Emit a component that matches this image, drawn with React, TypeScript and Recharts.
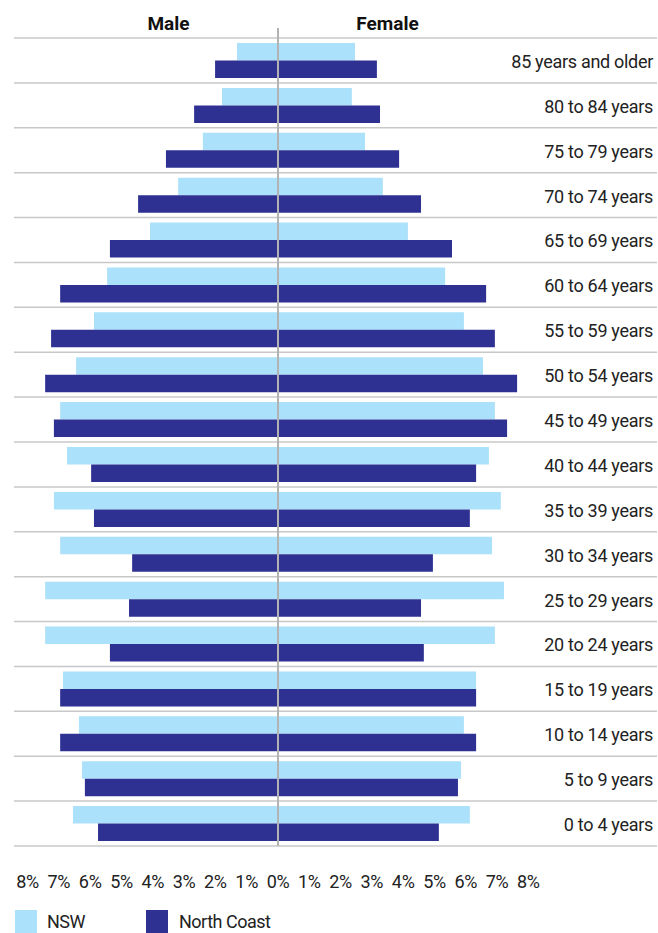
import { BarChart, Bar, XAxis, YAxis, CartesianGrid, ReferenceLine } from "recharts";

const AGE_GROUPS = [
  "85 years and older",
  "80 to 84 years",
  "75 to 79 years",
  "70 to 74 years",
  "65 to 69 years",
  "60 to 64 years",
  "55 to 59 years",
  "50 to 54 years",
  "45 to 49 years",
  "40 to 44 years",
  "35 to 39 years",
  "30 to 34 years",
  "25 to 29 years",
  "20 to 24 years",
  "15 to 19 years",
  "10 to 14 years",
  "5 to 9 years",
  "0 to 4 years",
];

// share of population (%)
const NSW_MALE = [1.31, 1.79, 2.4, 3.19, 4.09, 5.46, 5.88, 6.45, 6.96, 6.74, 7.16, 6.96, 7.44, 7.44, 6.87, 6.36, 6.26, 6.55];
const NC_MALE = [2.01, 2.68, 3.58, 4.47, 5.37, 6.96, 7.25, 7.44, 7.16, 5.97, 5.88, 4.66, 4.76, 5.37, 6.96, 6.96, 6.17, 5.75];
const NSW_FEMALE = [2.46, 2.36, 2.78, 3.35, 4.15, 5.34, 5.94, 6.55, 6.93, 6.74, 7.12, 6.84, 7.22, 6.93, 6.33, 5.94, 5.85, 6.13];
const NC_FEMALE = [3.16, 3.26, 3.87, 4.57, 5.56, 6.65, 6.93, 7.64, 7.32, 6.33, 6.13, 4.95, 4.57, 4.66, 6.33, 6.33, 5.75, 5.14];

const X_TICKS = [-8, -7, -6, -5, -4, -3, -2, -1, 0, 1, 2, 3, 4, 5, 6, 7, 8];
const SEX_TICKS = [-3.5, 0, 3.5];
const SEX_LABELS: Record<string, string> = { "-3.5": "Male", "3.5": "Female" };

const LIGHT = "#abe1fa";
const DARK = "#2e3192";
const FONT = "Roboto, 'Liberation Sans', sans-serif";

const data = AGE_GROUPS.map((age, i) => ({
  age,
  nswM: -NSW_MALE[i],
  nswF: NSW_FEMALE[i],
  ncM: -NC_MALE[i],
  ncF: NC_FEMALE[i],
}));

function TopTick(props: any) {
  const { x, y, payload } = props;
  if (payload.value === 0) {
    return <line x1={x} x2={x} y1={y} y2={y - 10} stroke="#b3b3b3" strokeWidth={2} />;
  }
  return (
    <text x={x} y={y - 8} textAnchor="middle" fontFamily={FONT} fontWeight="bold" fontSize={19} fill="#111">
      {SEX_LABELS[String(payload.value)]}
    </text>
  );
}

export default function App() {
  const domain: [number, number] = [-8.435, 12.11];
  return (
    <div style={{ position: "absolute", left: 0, top: 0, width: 658, height: 933, fontFamily: FONT }}>
      <BarChart
        width={658}
        height={933}
        data={data}
        layout="vertical"
        stackOffset="sign"
        barGap={0}
        barSize={17.5}
        margin={{ top: 0, right: 1, bottom: 37, left: 14 }}
      >
        <CartesianGrid
          xAxisId="bottom"
          vertical={false}
          stroke="#c8c8c8"
          strokeWidth={1.5}
          horizontalCoordinatesGenerator={({ offset }: any) =>
            AGE_GROUPS.map((_, i) => offset.top + (i * offset.height) / AGE_GROUPS.length).concat(
              offset.top + offset.height
            )
          }
        />
        <XAxis
          xAxisId="bottom"
          type="number"
          domain={domain}
          allowDataOverflow
          ticks={X_TICKS}
          interval={0}
          axisLine={false}
          tickLine={false}
          tickSize={0}
          tickMargin={29}
          height={50}
          tickFormatter={(v: number) => `${Math.abs(v)}%`}
          tick={{ fontSize: 18, fill: "#222", fontFamily: FONT, letterSpacing: -0.3 }}
        />
        <XAxis
          xAxisId="top"
          orientation="top"
          type="number"
          domain={domain}
          allowDataOverflow
          ticks={SEX_TICKS}
          interval={0}
          axisLine={false}
          tickLine={false}
          tickSize={0}
          tickMargin={0}
          height={38}
          tick={<TopTick />}
        />
        <YAxis
          type="category"
          dataKey="age"
          orientation="right"
          mirror
          width={300}
          axisLine={false}
          tickLine={false}
          tickSize={0}
          tickMargin={4}
          interval={0}
          tick={{ fontSize: 18, fill: "#222", fontFamily: FONT, letterSpacing: -0.3, dy: 1 }}
        />
        <Bar xAxisId="bottom" dataKey="nswM" stackId="nsw" fill={LIGHT} isAnimationActive={false} />
        <Bar xAxisId="bottom" dataKey="nswF" stackId="nsw" fill={LIGHT} isAnimationActive={false} />
        <Bar xAxisId="bottom" dataKey="ncM" stackId="nc" fill={DARK} isAnimationActive={false} />
        <Bar xAxisId="bottom" dataKey="ncF" stackId="nc" fill={DARK} isAnimationActive={false} />
        <ReferenceLine xAxisId="bottom" x={0} stroke="#b3b3b3" strokeWidth={2} />
      </BarChart>
      <div
        style={{
          position: "absolute",
          left: 15,
          top: 910,
          display: "flex",
          alignItems: "center",
          fontSize: 18,
          letterSpacing: -0.5,
          color: "#222",
        }}
      >
        <span style={{ display: "inline-block", width: 22, height: 23, background: LIGHT }} />
        <span style={{ marginLeft: 10, width: 99 }}>NSW</span>
        <span style={{ display: "inline-block", width: 22, height: 23, background: DARK }} />
        <span style={{ marginLeft: 11 }}>North Coast</span>
      </div>
    </div>
  );
}
